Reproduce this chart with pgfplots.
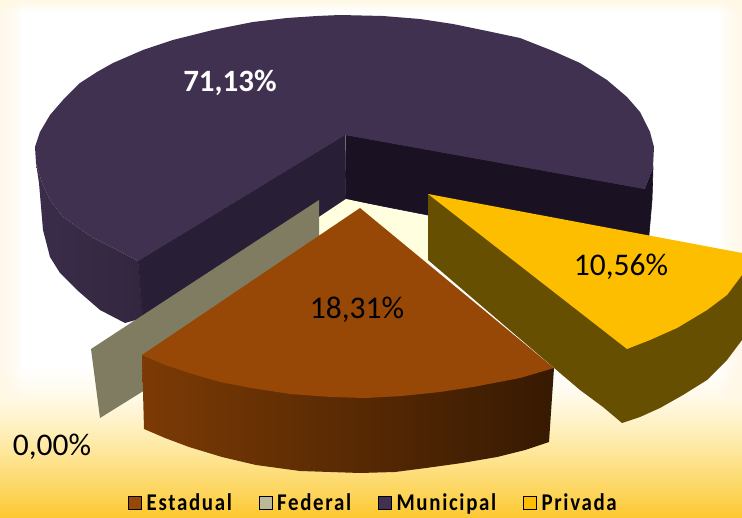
\documentclass[border=0pt]{standalone}
\usepackage{fontspec}
\setmainfont{Carlito}
\usepackage{pgfplots}
\pgfplotsset{compat=1.18}
\definecolor{creme}{HTML}{FFF8E4}
\definecolor{gap}{HTML}{FFFFE0}
\definecolor{munTop}{HTML}{403151}
\definecolor{munCut}{HTML}{281E36}
\definecolor{munBack}{HTML}{1A1222}
\definecolor{estTop}{HTML}{974706}
\definecolor{fedFace}{HTML}{7F7C62}
\definecolor{fedKey}{HTML}{BCB89A}
\definecolor{priTop}{HTML}{FDBE00}
\definecolor{priWall}{HTML}{664F00}
\definecolor{FundoA}{HTML}{FDC830}
\definecolor{FundoB}{HTML}{FDD65F}
\definecolor{FundoC}{HTML}{FEE89F}
\definecolor{FundoD}{HTML}{FFF3CB}
\definecolor{FundoE}{HTML}{FFFBF0}
\pgfdeclareverticalshading{fundo}{100bp}{
  color(0bp)=(FundoA); color(25bp)=(FundoA); color(27.7bp)=(FundoB);
  color(31.6bp)=(FundoC); color(34.5bp)=(FundoD); color(37.4bp)=(FundoE);
  color(39.8bp)=(white); color(73.8bp)=(white); color(75bp)=(creme); color(100bp)=(creme)}
\newcommand{\chave}[1]{\scalebox{.87}[1]{\addfontfeature{LetterSpace=8}#1}}

\begin{document}
\begin{tikzpicture}[x=1pt,y=1pt]
\useasboundingbox (0,0) rectangle (742,518);
\shade[shading=fundo] (0,0) rectangle (742,518);
\foreach \i in {1,...,7}{
  \fill[creme,opacity=.15] (0,120) rectangle (3*\i,518);
  \fill[creme,opacity=.15] (742-3*\i,120) rectangle (742,518);
}
\begin{axis}[
  scale only axis,width=742pt,height=518pt,
  xmin=0,xmax=742,ymin=0,ymax=518,y dir=reverse,
  hide axis,
  legend columns=4,
  legend style={at={(axis cs:373,503)},anchor=center,draw=none,fill=none,
    font=\fontsize{24}{26}\selectfont\bfseries,
    /tikz/every odd column/.append style={column sep=4pt},
    /tikz/every even column/.append style={column sep=26pt},inner sep=0pt,
    nodes={inner sep=1pt}},
  legend image code/.code={\fill[#1] (0pt,-6.5pt) rectangle (13pt,6.5pt);},
]
% Municipal
\addplot[draw=none,shade,left color=black!8!munTop,right color=black!22!munTop,forget plot] coordinates {
 (36,163) (39,183) (43,230) (50,257) (60,273) (77,290) (100,310) (125,323) (143,318) (138,261)
 (117,250) (93,238) (63,217) (50,200) (42,183)} -- cycle;
\addplot[draw=munCut,line width=.6pt,fill=munCut,forget plot] coordinates {
 (138,261) (345,135) (346,215) (143,320)} -- cycle;
\addplot[draw=munBack,line width=.6pt,fill=munBack,forget plot] coordinates {
 (346,135) (645,189) (653,168) (652,200) (647,258) (346,199)} -- cycle;
\addplot[draw=none,fill=munTop,forget plot] coordinates {
 (345,135) (138,261) (117,250) (93,238) (63,217) (50,200) (42,183) (36,163) (35,147) (40,132)
 (50,115) (63,100) (80,83) (97,72) (113,63) (143,50) (173,40) (213,30) (253,22) (287,18) (317,16)
 (340,15) (383,16) (420,19) (453,24) (487,31) (520,38) (553,51) (580,63) (607,80) (627,97)
 (640,112) (650,132) (654,147) (653,167) (645,189)} -- cycle;
% vao entre as fatias
\addplot[draw=none,fill=gap,forget plot] coordinates {
 (319,217) (346,199) (428,217) (428,270) (319,270)} -- cycle;
% Federal
\addplot[draw=none,fill=fedFace,forget plot] coordinates {
 (91,349) (319,200) (319,260) (145,372) (145,390) (100,418)} -- cycle;
% Privada
\addplot[draw=none,fill=priWall,forget plot] coordinates {
 (428,194) (742,275) (742,340) (727,360) (707,380) (683,395) (660,408) (640,417) (622,423)
 (603,407) (580,390) (560,373) (428,260)} -- cycle;
\addplot[draw=none,fill=priTop,forget plot] coordinates {
 (428,194) (673,240) (742,253) (742,275) (727,295) (707,310) (677,328) (650,340) (627,349)} -- cycle;
% Estadual
\addplot[draw=none,shade,left color=estTop!82!black,middle color=estTop!58!black,right color=estTop!36!black,forget plot] coordinates {
 (142,355) (144,429) (165,438) (189,447) (222,457) (256,465) (300,471) (360,473) (395,472) (426,468)
 (462,463) (497,457) (525,450) (549,442) (554,368)} -- cycle;
\addplot[draw=none,fill=estTop,forget plot] coordinates {
 (360,208) (554,368) (520,378) (473,387) (440,392) (402,396) (365,398) (331,397) (290,394) (251,388)
 (220,382) (189,373) (165,365) (142,355)} -- cycle;
% legenda
\addlegendimage{fill=estTop}\addlegendentry{\chave{Estadual}}
\addlegendimage{fill=fedKey}\addlegendentry{\chave{Federal}}
\addlegendimage{fill=munTop}\addlegendentry{\chave{Municipal}}
\addlegendimage{fill=priTop}\addlegendentry{\chave{Privada}}
% rotulos
\node[white,font=\fontsize{31}{33}\selectfont\bfseries] at (axis cs:230,83) {71,13\%};
\node[font=\fontsize{31.5}{33}\selectfont] at (axis cs:357,310) {18,31\%};
\node[font=\fontsize{31.5}{33}\selectfont] at (axis cs:621,267) {10,56\%};
\node[font=\fontsize{31.5}{33}\selectfont] at (axis cs:52,447) {0,00\%};
\end{axis}
\end{tikzpicture}
\end{document}
